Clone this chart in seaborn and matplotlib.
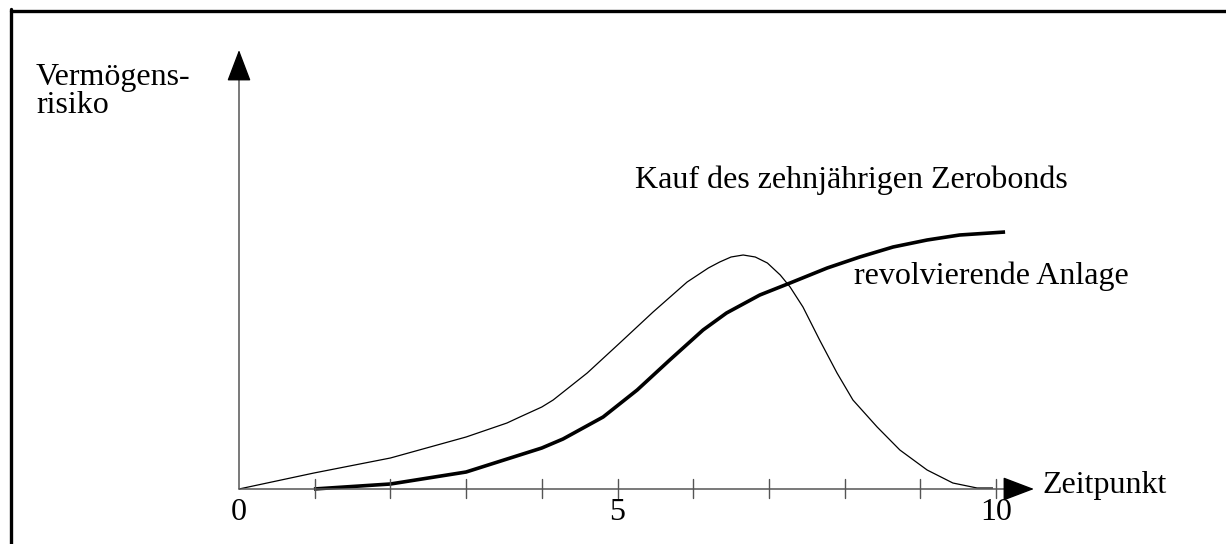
import matplotlib
matplotlib.use("Agg")
import matplotlib.pyplot as plt
import seaborn as sns
import pandas as pd
from matplotlib.lines import Line2D

# ---- data ----
zero_x = [0, 0.99, 2.0, 3.0, 3.54, 3.71, 4.0, 4.15, 4.6, 5.03, 5.47, 5.92, 6.2, 6.35,
          6.5, 6.66, 6.82, 6.98, 7.15, 7.28, 7.45, 7.67, 7.90, 8.11, 8.43, 8.73, 9.09,
          9.43, 9.75, 9.96]
zero_y = [0, 16, 31, 52, 66, 72, 82, 89, 116, 146, 177, 207, 221, 227,
          232, 234, 232, 226, 214, 202, 182, 149, 116, 89, 62, 39, 19,
          6, 1, 1]
rev_x = [0.99, 2.0, 3.0, 4.0, 4.28, 4.81, 5.26, 5.69, 6.13, 6.44, 6.88, 7.28,
         7.77, 8.20, 8.64, 9.09, 9.52, 10.12]
rev_y = [0, 5, 17, 41, 50, 72, 99, 129, 159, 176, 194, 206,
         221, 232, 242, 249, 254, 257]
tick_positions = [1, 2, 3, 4, 5, 6, 7, 8, 9, 10]
tick_labels = {0: "0", 5: "5", 10: "10"}
label_zero = "Kauf des zehnjährigen Zerobonds"
label_rev = "revolvierende Anlage"
x_title = "Zeitpunkt"
y_title = ["Vermögens-", "risiko"]

sns.set_style("white")
plt.rcParams['font.family'] = ['Liberation Serif', 'DejaVu Serif']

fig = plt.figure(figsize=(12.26, 5.44), dpi=100)
ax = fig.add_axes([0, 0, 1, 1])
ax.set_xlim(-239 / 75.7, (1226 - 239) / 75.7)
ax.set_ylim(-55, 489)
ax.axis("off")

df_zero = pd.DataFrame({"x": zero_x, "y": zero_y})
df_rev = pd.DataFrame({"x": rev_x, "y": rev_y})
sns.lineplot(data=df_zero, x="x", y="y", ax=ax, color="black", lw=0.9, sort=False)
sns.lineplot(data=df_rev, x="x", y="y", ax=ax, color="black", lw=2.6, sort=False)
for ln in ax.lines:
    ln.set_solid_joinstyle("round")
    ln.set_solid_capstyle("butt")

# axes lines with arrow heads
axis_col = "#555555"
x_end = (1034 - 239) / 75.7
y_end = 489 - 50
ax.plot([0, x_end - 0.15], [0, 0], color=axis_col, lw=1.1)
ax.plot([0, 0], [0, y_end - 12], color=axis_col, lw=1.1)
ax.annotate("", xy=(x_end, 0), xytext=(x_end - 0.3, 0),
            arrowprops=dict(arrowstyle="-|>,head_length=1.0,head_width=0.38",
                            color="black", lw=1, mutation_scale=20,
                            shrinkA=0, shrinkB=0))
ax.annotate("", xy=(0, y_end), xytext=(0, y_end - 25),
            arrowprops=dict(arrowstyle="-|>,head_length=1.0,head_width=0.38",
                            color="black", lw=1, mutation_scale=20,
                            shrinkA=0, shrinkB=0))

# ticks
for t in tick_positions:
    ax.plot([t, t], [-9, 10], color=axis_col, lw=1.0)
for pos, lab in tick_labels.items():
    ax.text(pos, -31, lab, ha="center", va="baseline", fontsize=23, color="black")

# labels
fs = 23
ax.text(5.23, 301, label_zero, ha="left", va="baseline", fontsize=fs, color="black")
ax.text(8.12, 205, label_rev, ha="left", va="baseline", fontsize=fs, color="black")
ax.text(10.62, -4, x_title, ha="left", va="baseline", fontsize=fs, color="black")
ax.text(-2.68, 404, y_title[0], ha="left", va="baseline", fontsize=fs, color="black")
ax.text(-2.68, 376, y_title[1], ha="left", va="baseline", fontsize=fs, color="black")

# frame (top and left only, as in the reference)
W, H = 1226, 544
fig.add_artist(Line2D([10.5 / W, 1], [1 - 10.5 / H, 1 - 10.5 / H],
                      transform=fig.transFigure, color="black", lw=2.4))
fig.add_artist(Line2D([10.5 / W, 10.5 / W], [0, 1 - 9 / H],
                      transform=fig.transFigure, color="black", lw=2.4))

fig.savefig("out.png", dpi=100)
